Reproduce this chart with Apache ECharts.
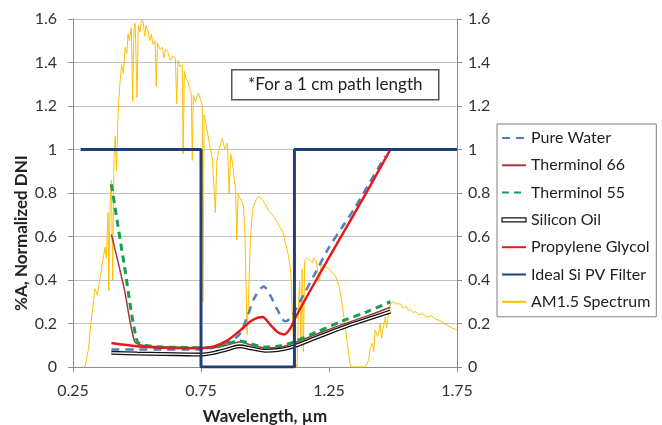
<!DOCTYPE html>
<html>
<head>
<meta charset="utf-8">
<script src="https://cdn.jsdelivr.net/npm/echarts@6/dist/echarts.min.js"></script>
<style>
  html, body { margin: 0; padding: 0; background: #fff; }
  #chart { width: 662px; height: 425px; }
</style>
</head>
<body>
<div id="chart"></div>
<script>
// wavelength (um) vs %A / normalized DNI
var pureWater = [[0.40,0.08],[0.50,0.08],[0.60,0.08],[0.70,0.08],[0.75,0.082],[0.80,0.09],[0.85,0.11],[0.90,0.15],
  [0.93,0.23],[0.96,0.32],[0.995,0.37],[1.02,0.33],[1.05,0.26],[1.08,0.21],[1.10,0.225],[1.15,0.33],[1.20,0.44],
  [1.25,0.55],[1.30,0.64],[1.35,0.73],[1.40,0.83],[1.47,0.97]];
var therminol66 = [[0.40,0.61],[0.45,0.36],[0.49,0.12],[0.52,0.10],[0.60,0.092],[0.70,0.09],[0.75,0.088],[0.80,0.09],
  [0.85,0.10],[0.90,0.115],[0.95,0.10],[1.00,0.088],[1.05,0.09],[1.10,0.105],[1.20,0.15],[1.30,0.195],[1.40,0.235],[1.49,0.275]];
var therminol55 = [[0.40,0.84],[0.45,0.47],[0.50,0.12],[0.53,0.10],[0.60,0.092],[0.70,0.09],[0.75,0.088],[0.80,0.09],
  [0.85,0.105],[0.90,0.12],[0.95,0.105],[1.00,0.092],[1.05,0.095],[1.10,0.11],[1.20,0.16],[1.30,0.21],[1.40,0.255],[1.49,0.30]];
var siliconOil = [[0.40,0.065],[0.50,0.062],[0.60,0.06],[0.70,0.058],[0.75,0.057],[0.80,0.065],[0.85,0.08],[0.90,0.095],
  [0.95,0.085],[1.00,0.075],[1.05,0.078],[1.10,0.09],[1.20,0.135],[1.30,0.18],[1.40,0.22],[1.49,0.255]];
var propyleneGlycol = [[0.40,0.11],[0.50,0.095],[0.60,0.088],[0.70,0.086],[0.75,0.087],[0.80,0.095],[0.85,0.12],[0.90,0.165],
  [0.95,0.215],[0.99,0.23],[1.02,0.195],[1.05,0.16],[1.075,0.15],[1.10,0.18],[1.12,0.23],[1.20,0.40],[1.30,0.605],[1.40,0.81],[1.49,1.0]];
var siPvFilter = [[0.28,1],[0.75,1],[0.75,0],[1.115,0],[1.115,1],[1.75,1]];
var am15 = [[0.28,0],[0.297,0],[0.31,0.08],[0.32,0.2],[0.33,0.3],[0.336,0.36],[0.345,0.33],[0.356,0.41],[0.365,0.48],
  [0.375,0.55],[0.38,0.5],[0.387,0.71],[0.39,0.35],[0.395,0.75],[0.40,0.86],[0.405,0.4],[0.41,0.95],[0.415,1.06],
  [0.42,0.9],[0.426,1.16],[0.433,1.3],[0.44,1.39],[0.447,1.35],[0.454,1.47],[0.46,1.44],[0.465,1.53],[0.47,1.5],
  [0.478,1.56],[0.483,1.22],[0.488,1.55],[0.493,1.58],[0.50,1.24],[0.505,1.57],[0.512,1.54],[0.518,1.6],[0.524,1.59],
  [0.53,1.52],[0.535,1.57],[0.544,1.54],[0.55,1.5],[0.556,1.53],[0.563,1.48],[0.571,1.5],[0.575,1.29],[0.58,1.49],
  [0.59,1.46],[0.60,1.47],[0.605,1.42],[0.612,1.46],[0.62,1.45],[0.63,1.41],[0.64,1.43],[0.65,1.42],[0.655,1.21],
  [0.66,1.41],[0.668,1.38],[0.677,1.39],[0.68,0.98],[0.685,1.36],[0.69,1.33],[0.70,1.31],[0.705,1.28],[0.712,1.26],
  [0.716,0.95],[0.72,1.25],[0.728,1.22],[0.74,1.26],[0.748,1.23],[0.755,1.2],[0.758,0.3],[0.762,1.16],[0.775,1.08],
  [0.787,1.0],[0.795,0.95],[0.806,0.71],[0.812,0.95],[0.82,1.0],[0.833,1.05],[0.843,1.0],[0.853,1.03],[0.86,0.8],
  [0.866,0.98],[0.873,0.94],[0.88,0.86],[0.885,0.82],[0.89,0.585],[0.895,0.8],[0.90,0.78],[0.91,0.76],[0.916,0.74],
  [0.922,0.6],[0.93,0.15],[0.935,0.3],[0.943,0.585],[0.95,0.7],[0.955,0.74],[0.965,0.77],[0.975,0.785],[0.99,0.77],
  [1.0,0.75],[1.014,0.72],[1.03,0.7],[1.04,0.68],[1.055,0.65],[1.07,0.62],[1.08,0.57],[1.09,0.52],[1.10,0.45],
  [1.105,0.3],[1.11,0.15],[1.118,0.02],[1.125,0.0],[1.13,0.25],[1.135,0.4],[1.14,0.1],[1.145,0.45],[1.15,0.07],
  [1.155,0.49],[1.165,0.5],[1.175,0.49],[1.185,0.48],[1.19,0.5],[1.2,0.49],[1.205,0.49],[1.212,0.39],[1.22,0.47],
  [1.23,0.47],[1.24,0.46],[1.25,0.45],[1.26,0.44],[1.276,0.415],[1.29,0.37],[1.30,0.30],[1.315,0.17],[1.33,0.03],
  [1.335,0],[1.39,0],[1.405,0.03],[1.41,0.08],[1.42,0.11],[1.425,0.07],[1.43,0.17],[1.44,0.14],[1.445,0.16],
  [1.45,0.2],[1.455,0.13],[1.46,0.17],[1.47,0.23],[1.475,0.18],[1.484,0.26],[1.49,0.29],[1.50,0.30],[1.515,0.29],
  [1.53,0.29],[1.54,0.27],[1.55,0.28],[1.56,0.26],[1.57,0.265],[1.58,0.25],[1.59,0.255],[1.60,0.24],[1.617,0.245],
  [1.63,0.23],[1.65,0.235],[1.665,0.22],[1.68,0.215],[1.70,0.2],[1.715,0.19],[1.73,0.18],[1.75,0.17]];

var font = 'Lato';
var chart = echarts.init(document.getElementById('chart'));

var yAxisBase = {
  type: 'value', min: 0, max: 1.6, interval: 0.2,
  axisLine: { show: true, lineStyle: { color: '#8c8c8c' } },
  axisTick: { show: true, length: 5, lineStyle: { color: '#8c8c8c' } },
  axisLabel: { fontFamily: font, fontSize: 16, color: '#333' }
};

chart.setOption({
  animation: false,
  grid: { left: 73, right: 205, top: 19, bottom: 58, outerBoundsMode: 'none' },
  xAxis: {
    type: 'value', min: 0.25, max: 1.75, interval: 0.5,
    name: 'Wavelength, \u00b5m', nameLocation: 'middle', nameGap: 41,
    nameTextStyle: { fontFamily: font, fontSize: 17, fontWeight: 'bold', color: '#222' },
    axisLine: { lineStyle: { color: '#8c8c8c' } },
    axisTick: { length: 5, lineStyle: { color: '#8c8c8c' } },
    axisLabel: { fontFamily: font, fontSize: 16, color: '#333', margin: 16 },
    splitLine: { show: false }
  },
  yAxis: [
    Object.assign({}, yAxisBase, {
      position: 'left',
      axisLabel: Object.assign({}, yAxisBase.axisLabel, { margin: 16 }),
      splitLine: { show: true, lineStyle: { color: '#c0c0c0' } }
    }),
    Object.assign({}, yAxisBase, {
      position: 'right',
      axisLabel: Object.assign({}, yAxisBase.axisLabel, { margin: 11 }),
      splitLine: { show: false }
    })
  ],
  legend: {
    data: [
      'Pure Water', 'Therminol 66', 'Therminol 55',
      { name: 'Silicon Oil', icon: 'path://M0,0H24V4H0Z', itemStyle: { color: '#fff', borderColor: '#111', borderWidth: 1.2, opacity: 1 } },
      'Propylene Glycol', 'Ideal Si PV Filter', 'AM1.5 Spectrum'
    ],
    orient: 'vertical', left: 497, top: 124,
    padding: [6, 6, 7, 4], itemWidth: 24, itemHeight: 16, itemGap: 11.3,
    itemStyle: { opacity: 0 },
    borderColor: '#808080', borderWidth: 1,
    textStyle: { fontFamily: font, fontSize: 16, color: '#222' }
  },
  graphic: [
    {
      type: 'text', x: 22, y: 233, rotation: Math.PI / 2,
      style: { text: '%A, Normalized DNI', fontFamily: font, fontSize: 17, fontWeight: 'bold', fill: '#222', align: 'center', verticalAlign: 'middle' }
    },
    {
      type: 'group', left: 231, top: 69,
      children: [
        { type: 'rect', shape: { x: 0, y: 0, width: 207, height: 30 }, style: { fill: '#fff', stroke: '#555', lineWidth: 1.5 } },
        { type: 'text', x: 103.5, y: 15, style: { text: '*For a 1 cm path length', fontFamily: font, fontSize: 17, fill: '#222', align: 'center', verticalAlign: 'middle' } }
      ]
    }
  ],
  series: [
    { name: 'AM1.5 Spectrum', type: 'line', yAxisIndex: 1, data: am15, symbol: 'none', lineStyle: { color: '#ffc000', width: 1 }, itemStyle: { color: '#ffc000' }, z: 1 },
    { name: 'Pure Water', type: 'line', data: pureWater, symbol: 'none', smooth: 0.3, lineStyle: { color: '#4f81bd', width: 2.5, type: [8, 6] }, itemStyle: { color: '#4f81bd' }, z: 2 },
    { name: 'Therminol 66', type: 'line', data: therminol66, symbol: 'none', smooth: 0.3, lineStyle: { color: '#9b3b3a', width: 1.5 }, itemStyle: { color: '#9b3b3a' }, z: 3 },
    { name: 'Therminol 55', type: 'line', data: therminol55, symbol: 'none', smooth: 0.3, lineStyle: { color: '#14a04c', width: 3, type: [7, 5] }, itemStyle: { color: '#14a04c' }, z: 4 },
    { name: 'Silicon Oil', type: 'line', data: siliconOil, symbol: 'none', smooth: 0.3, lineStyle: { color: '#111', width: 4 }, itemStyle: { color: '#111' }, z: 5 },
    { name: 'Silicon Oil inner', type: 'line', data: siliconOil, symbol: 'none', smooth: 0.3, lineStyle: { color: '#fff', width: 1.4 }, z: 6, silent: true },
    { name: 'Propylene Glycol', type: 'line', data: propyleneGlycol, symbol: 'none', smooth: 0.3, lineStyle: { color: '#e8191c', width: 2.5 }, itemStyle: { color: '#e8191c' }, z: 7 },
    { name: 'Ideal Si PV Filter', type: 'line', data: siPvFilter, symbol: 'none', lineStyle: { color: '#1f3f78', width: 3 }, itemStyle: { color: '#1f3f78' }, z: 8 }
  ]
});
</script>
</body>
</html>
